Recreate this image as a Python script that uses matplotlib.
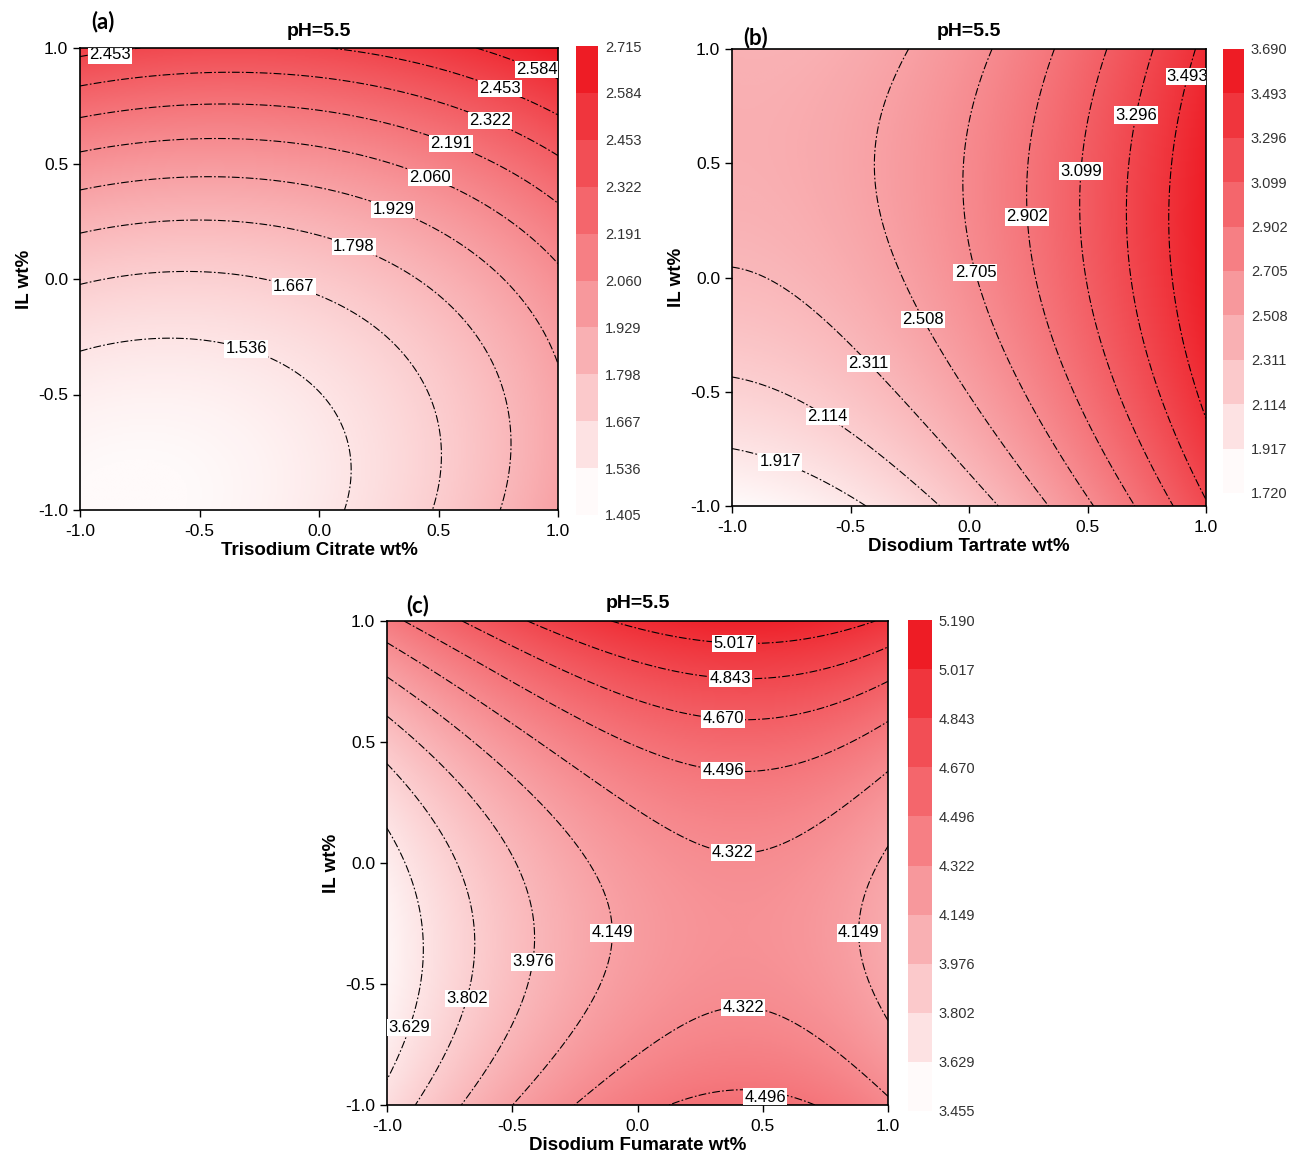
import numpy as np
import matplotlib.pyplot as plt
from matplotlib.colors import LinearSegmentedColormap, BoundaryNorm
from matplotlib.cm import ScalarMappable

plt.rcParams['font.family'] = ['Liberation Sans', 'DejaVu Sans']
plt.rcParams['axes.unicode_minus'] = False

# ---- panel (a): Trisodium Citrate ----
a_levels = [1.405, 1.536, 1.667, 1.798, 1.929, 2.060, 2.191, 2.322, 2.453, 2.584, 2.715]
# points (x, y), one list per level
a_pts = {
    1.405: [(-0.6, -1.0)],
    1.536: [(-1, -0.314), (-0.624, -0.253), (-0.303, -0.307), (-0.066, -0.422), (0.059, -0.581), (0.115, -0.769), (0.101, -1)],
    1.667: [(-1, -0.025), (-0.554, 0.035), (-0.115, -0.054), (0.212, -0.177), (0.422, -0.35), (0.491, -0.625), (0.477, -1)],
    1.798: [(-1, 0.201), (-0.512, 0.256), (0.143, 0.141), (0.491, -0.061), (0.7, -0.336), (0.784, -0.697), (0.77, -1)],
    1.929: [(-1, 0.386), (-0.484, 0.447), (0.303, 0.3), (0.631, 0.141), (0.882, -0.119), (1, -0.372)],
    2.060: [(-1, 0.548), (-0.456, 0.61), (0.47, 0.437), (0.77, 0.271), (1, 0.069)],
    2.191: [(-1, 0.697), (-0.415, 0.755), (0.547, 0.586), (0.84, 0.458), (1, 0.314)],
    2.322: [(-1, 0.834), (-0.373, 0.899), (0.714, 0.682), (1, 0.531)],
    2.453: [(-1, 0.964), (-0.75, 1.0), (0.067, 1.0), (0.4, 0.93), (0.756, 0.827), (1, 0.70)],
    2.584: [(0.65, 1.0), (0.85, 0.93), (1, 0.87)],
    2.700: [(1, 1)],
}
a_labels = [(-0.874, 0.97), (0.912, 0.905), (0.757, 0.823), (0.715, 0.684), (0.552, 0.589),
            (0.464, 0.437), (0.31, 0.299), (0.146, 0.143), (-0.113, -0.056), (-0.305, -0.303)]

# ---- panel (b): Disodium Tartrate ----
b_levels = [1.720, 1.917, 2.114, 2.311, 2.508, 2.705, 2.902, 3.099, 3.296, 3.493, 3.690]
b_pts = {
    1.720: [(-1, -1)],
    1.917: [(-1, -0.747), (-0.796, -0.814), (-0.628, -0.89), (-0.445, -1)],
    2.114: [(-1, -0.422), (-0.838, -0.488), (-0.599, -0.612), (-0.417, -0.729), (-0.262, -0.861), (-0.122, -1)],
    2.311: [(-1, 0.068), (-0.768, -0.042), (-0.599, -0.217), (-0.431, -0.385), (-0.262, -0.568), (-0.065, -0.788), (0.124, -1)],
    2.508: [(-0.255, 1), (-0.361, 0.822), (-0.417, 0.602), (-0.403, 0.383), (-0.318, 0.163), (-0.192, -0.188),
            (0.033, -0.495), (0.216, -0.788), (0.342, -1)],
    2.705: [(0.103, 1), (0.019, 0.675), (-0.023, 0.456), (0.026, 0.017), (0.117, -0.276), (0.286, -0.568), (0.525, -1)],
    2.902: [(0.363, 1), (0.286, 0.748), (0.258, 0.456), (0.244, 0.258), (0.286, -0.129), (0.427, -0.568), (0.701, -1)],
    3.099: [(0.588, 1), (0.497, 0.675), (0.469, 0.463), (0.462, 0.163), (0.539, -0.276), (0.637, -0.568), (0.855, -1)],
    3.296: [(0.778, 1), (0.708, 0.712), (0.673, 0.309), (0.722, -0.129), (0.848, -0.642), (1, -0.978)],
    3.493: [(0.954, 1), (0.911, 0.88), (0.869, 0.602), (0.855, 0.163), (0.904, -0.276), (1, -0.554)],
    3.690: [(1, 0.2)],
}
b_labels = [(0.911, 0.882), (0.705, 0.711), (0.468, 0.466), (0.245, 0.265), (0.025, 0.02),
            (-0.194, -0.186), (-0.435, -0.387), (-0.599, -0.61), (-0.797, -0.807)]

# ---- panel (c): Disodium Fumarate ----
c_levels = [3.455, 3.629, 3.802, 3.976, 4.149, 4.322, 4.496, 4.670, 4.843, 5.017, 5.190]
c_pts = {
    3.455: [(-1, -0.3)],
    3.629: [(-1, 0.193), (-0.907, -0.055), (-0.867, -0.331), (-0.88, -0.607), (-0.947, -0.814), (-1, -0.897)],
    3.802: [(-1, 0.428), (-0.827, 0.221), (-0.694, -0.055), (-0.668, -0.331), (-0.674, -0.562), (-0.787, -0.814), (-0.894, -1)],
    3.976: [(-1, 0.607), (-0.761, 0.359), (-0.522, 0.014), (-0.442, -0.262), (-0.442, -0.407), (-0.522, -0.745), (-0.721, -1)],
    4.149: [(-1, 0.752), (-0.694, 0.497), (-0.362, 0.221), (-0.176, -0.055), (-0.123, -0.29), (-0.189, -0.538),
            (-0.362, -0.814), (-0.508, -1), (1, 0.055), (0.914, -0.124), (0.887, -0.29), (0.914, -0.441), (1, -0.607)],
    4.322: [(-1, 0.89), (-0.628, 0.634), (-0.229, 0.359), (0.103, 0.11), (0.382, 0.055), (0.701, 0.193), (1, 0.386),
            (-0.277, -1), (0.037, -0.814), (0.422, -0.662), (0.701, -0.745), (1, -0.915)],
    4.496: [(-0.98, 1), (-0.362, 0.731), (0.037, 0.497), (0.342, 0.363), (0.701, 0.469), (1, 0.58),
            (0.17, -1), (0.509, -0.967), (0.66, -1)],
    4.670: [(-0.56, 1), (0.037, 0.703), (0.341, 0.583), (0.701, 0.662), (1, 0.759)],
    4.843: [(-0.337, 1), (0.103, 0.814), (0.369, 0.719), (0.701, 0.8), (1, 0.897)],
    5.017: [(-0.2, 1), (0.385, 0.855), (0.701, 0.91), (0.9, 1)],
    5.190: [(0.35, 1)],
}
c_labels = [(0.385, 0.855), (0.369, 0.719), (0.341, 0.583), (0.341, 0.36), (0.381, 0.054),
            (-0.126, -0.289), (0.888, -0.289), (-0.441, -0.405), (-0.673, -0.562), (-0.908, -0.682),
            (0.421, -0.665), (0.509, -0.967)]

W, H = 1294, 1168
cmap = LinearSegmentedColormap.from_list('wr', ['#fffafa', '#ee1c25'])


def box(l, t, r, b):
    return [l / W, 1 - b / H, (r - l) / W, (b - t) / H]


def terms(x, y):
    return [np.ones_like(x), x, y, x * y, x ** 2, y ** 2, x ** 3, x ** 2 * y, x * y ** 2, y ** 3]


def surface(pts):
    xs, ys, zs = [], [], []
    for lev, plist in pts.items():
        for px, py in plist:
            xs.append(px); ys.append(py); zs.append(lev)
    xs, ys = np.array(xs), np.array(ys)
    A = np.column_stack(terms(xs, ys))
    coef, *_ = np.linalg.lstsq(A, np.array(zs), rcond=None)
    g = np.linspace(-1, 1, 301)
    X, Y = np.meshgrid(g, g)
    Z = sum(c * t for c, t in zip(coef, terms(X, Y)))
    return X, Y, Z


def panel(axbox, cbbox, pts, levels, labels, xlabel, tag, tagpos):
    ax = fig.add_axes(box(*axbox))
    X, Y, Z = surface(pts)
    ax.imshow(Z, extent=[-1, 1, -1, 1], origin='lower', cmap=cmap,
              vmin=levels[0], vmax=levels[-1], aspect='auto', interpolation='bilinear')
    cs = ax.contour(X, Y, Z, levels=levels[1:-1], colors='black',
                    linewidths=0.8, linestyles=[(0, (7, 2, 1.5, 2))])
    texts = ax.clabel(cs, inline=False, fmt='%.3f', fontsize=12, manual=labels)
    for t, pos in zip(texts, labels):
        x, y = t.get_position()
        # labels that snapped onto the frame go back to where they sit in the picture
        if abs(x) > 0.93 or abs(y) > 0.93:
            t.set_position(pos)
        t.set_rotation(0)
        t.set_bbox(dict(facecolor='white', edgecolor='none', pad=0.8))
        t.set_zorder(5)
    ax.set_xlim(-1, 1)
    ax.set_ylim(-1, 1)
    ticks = [-1.0, -0.5, 0.0, 0.5, 1.0]
    ax.set_xticks(ticks)
    ax.set_yticks(ticks)
    ax.tick_params(direction='out', length=5, width=1, labelsize=12.5)
    ax.tick_params(axis='x', pad=5)
    for s in ax.spines.values():
        s.set_linewidth(1.2)
    ax.set_xlabel(xlabel, fontsize=13.5, fontweight='bold', labelpad=2)
    ax.set_ylabel('IL wt%', fontsize=13.5, fontweight='bold', labelpad=4)
    ax.set_title('pH=5.5', fontsize=14, fontweight='bold', pad=9)
    fig.text(tagpos[0] / W, 1 - tagpos[1] / H, tag, ha='center', va='center',
             fontsize=16, fontweight='bold', family=['Lato', 'DejaVu Sans'])

    cax = fig.add_axes(box(*cbbox))
    norm = BoundaryNorm(levels, cmap.N)
    cb = fig.colorbar(ScalarMappable(norm=norm, cmap=cmap), cax=cax, ticks=levels)
    cb.outline.set_visible(False)
    cb.ax.tick_params(length=0, labelsize=10.5, labelcolor='#333333', pad=5)
    cb.ax.set_yticklabels(['%.3f' % v for v in levels])


fig = plt.figure(figsize=(W / 100, H / 100), dpi=100)
panel((80, 48, 558, 510), (576, 46, 598, 515), a_pts, a_levels, a_labels,
      'Trisodium Citrate wt%', '(a)', (103, 22))
panel((732, 49, 1206, 506), (1223, 49, 1244, 493), b_pts, b_levels, b_labels,
      'Disodium Tartrate wt%', '(b)', (756, 38))
panel((387, 621, 888, 1105), (908, 620, 932, 1111), c_pts, c_levels, c_labels,
      'Disodium Fumarate wt%', '(c)', (418, 606))
fig.savefig('out.png', dpi=100)
